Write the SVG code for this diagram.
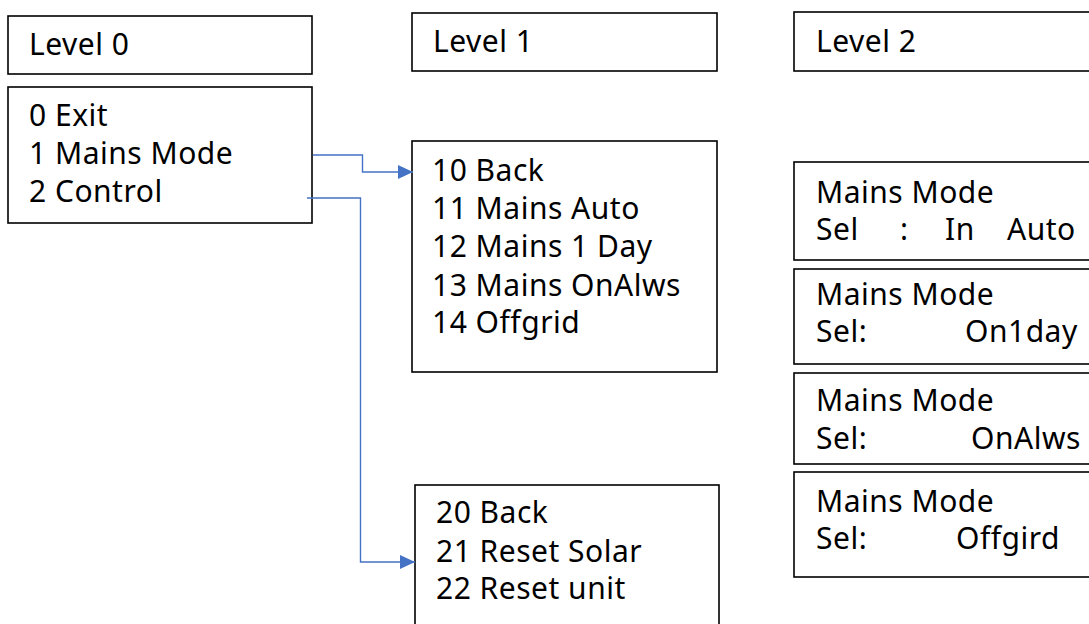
<svg xmlns="http://www.w3.org/2000/svg" width="1089" height="624" viewBox="0 0 1089 624">
<style>
.box{fill:#fff;stroke:#000;stroke-width:1.6}
.t{font-family:"Noto Sans",Lato,sans-serif;font-size:30px;letter-spacing:0.5px;fill:#000}
.c{fill:none;stroke:#4472C4;stroke-width:1.4}
</style>
<defs>
<marker id="ah" markerWidth="15" markerHeight="14" refX="15" refY="7" orient="auto" markerUnits="userSpaceOnUse" viewBox="0 0 15 14">
<path d="M0,0 L15,7 L0,14 Z" fill="#4472C4"/>
</marker>
</defs>
<rect width="1089" height="624" fill="#fff"/>
<g id="level0">
<rect class="box" x="8" y="16" width="304" height="58"/>
<text class="t" x="29" y="55">Level 0</text>
</g>
<g id="menu0">
<rect class="box" x="8" y="87" width="304" height="136"/>
<text class="t" x="29" y="126">0 Exit</text>
<text class="t" x="29" y="164">1 Mains Mode</text>
<text class="t" x="29" y="202">2 Control</text>
</g>
<g id="level1">
<rect class="box" x="412" y="13" width="305" height="58"/>
<text class="t" x="433" y="52">Level 1</text>
</g>
<g id="level2">
<rect class="box" x="794" y="12" width="310" height="59"/>
<text class="t" x="816" y="52">Level 2</text>
</g>
<g id="menu1">
<rect class="box" x="412" y="141" width="305" height="231"/>
<text class="t" x="432" y="181">10 Back</text>
<text class="t" x="432" y="219">11 Mains Auto</text>
<text class="t" x="432" y="257">12 Mains 1 Day</text>
<text class="t" x="432" y="296">13 Mains OnAlws</text>
<text class="t" x="432" y="333">14 Offgrid</text>
</g>
<g id="menu2">
<rect class="box" x="415" y="485" width="304" height="160"/>
<text class="t" x="436" y="523">20 Back</text>
<text class="t" x="436" y="562">21 Reset Solar</text>
<text class="t" x="436" y="599">22 Reset unit</text>
</g>
<g id="sel-auto">
<rect class="box" x="794" y="162" width="310" height="98"/>
<text class="t" x="816" y="203">Mains Mode</text>
<text class="t" y="240"><tspan x="816">Sel</tspan><tspan x="900">:</tspan><tspan x="945">In</tspan><tspan x="1007">Auto</tspan></text>
</g>
<g id="sel-on1day">
<rect class="box" x="794" y="269" width="310" height="95"/>
<text class="t" x="816" y="305">Mains Mode</text>
<text class="t" y="342"><tspan x="816">Sel:</tspan><tspan x="965">On1day</tspan></text>
</g>
<g id="sel-onalws">
<rect class="box" x="794" y="373" width="310" height="91"/>
<text class="t" x="816" y="411">Mains Mode</text>
<text class="t" y="449"><tspan x="816">Sel:</tspan><tspan x="971">OnAlws</tspan></text>
</g>
<g id="sel-offgrid">
<rect class="box" x="794" y="472" width="310" height="105"/>
<text class="t" x="816" y="512">Mains Mode</text>
<text class="t" y="549"><tspan x="816">Sel:</tspan><tspan x="956">Offgird</tspan></text>
</g>
<g id="connectors">
<path class="c" d="M313,155 H362.5 V172 H413" marker-end="url(#ah)"/>
<path class="c" d="M307,198 H360.5 V562 H415" marker-end="url(#ah)"/>
</g>
</svg>
